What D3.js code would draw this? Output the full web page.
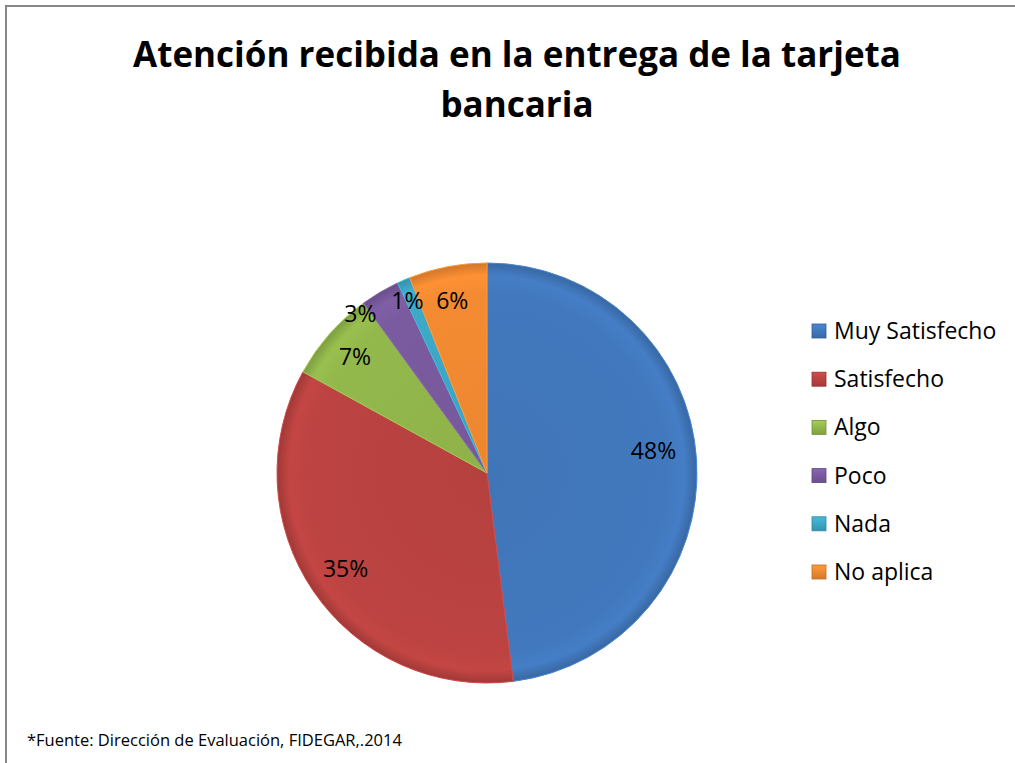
<!DOCTYPE html>
<html>
<head>
<meta charset="UTF-8">
<script src="https://d3js.org/d3.v7.min.js"></script>
<style>
  body { margin: 0; background: #fff; }
  text { font-family: "Open Sans", Lato, sans-serif; }
</style>
</head>
<body>
<svg width="1015" height="763"></svg>
<script>
// chart data
const categories = ['Muy Satisfecho', 'Satisfecho', 'Algo', 'Poco', 'Nada', 'No aplica'];
const values = [48, 35, 7, 3, 1, 6];
const colors = ['#4279BE', '#BC4341', '#93B84C', '#7B5BA0', '#3DA9C8', '#F48B32'];
const titleLines = ['Atención recibida en la entrega de la tarjeta', 'bancaria'];
const footnote = '*Fuente: Dirección de Evaluación, FIDEGAR,.2014';

// label placement (Excel best fit): distance from centre and angle shift in degrees
const labelRadius = [168, 171, 176, 203, 190, 176];
const labelShift = [-4, 0, 0, -8, -1.4, -0.6];

const svg = d3.select('svg');
const cx = 487, cy = 473, radius = 210;

// frame
svg.append('path')
  .attr('d', 'M6,763 L6,6 L1015,6')
  .attr('fill', 'none')
  .attr('stroke', '#878787')
  .attr('stroke-width', 2);

// title
svg.append('g')
  .selectAll('text')
  .data(titleLines)
  .join('text')
    .attr('x', 517)
    .attr('y', (d, i) => 67 + i * 50)
    .attr('text-anchor', 'middle')
    .attr('font-size', '35px')
    .attr('font-weight', 'bold')
    .attr('fill', '#000')
    .text(d => d);

// gradients for the bevel look
const defs = svg.append('defs');
colors.forEach((c, i) => {
  const g = defs.append('radialGradient')
    .attr('id', 'grad' + i)
    .attr('gradientUnits', 'userSpaceOnUse')
    .attr('cx', 0).attr('cy', 0).attr('r', radius);
  g.append('stop').attr('offset', '0%').attr('stop-color', d3.color(c).darker(0.1));
  g.append('stop').attr('offset', '86%').attr('stop-color', c);
  g.append('stop').attr('offset', '94%').attr('stop-color', d3.color(c).brighter(0.12));
  g.append('stop').attr('offset', '100%').attr('stop-color', d3.color(c).darker(0.45));

  const lg = defs.append('linearGradient')
    .attr('id', 'lgrad' + i)
    .attr('x1', 0).attr('y1', 0).attr('x2', 0).attr('y2', 1);
  lg.append('stop').attr('offset', '0%').attr('stop-color', d3.color(c).brighter(0.3));
  lg.append('stop').attr('offset', '100%').attr('stop-color', d3.color(c).darker(0.4));
});

const pie = d3.pie().sort(null).value(d => d)(values);
const arc = d3.arc().innerRadius(0).outerRadius(radius);

const g = svg.append('g').attr('transform', `translate(${cx},${cy})`);

g.selectAll('path')
  .data(pie)
  .join('path')
    .attr('d', arc)
    .attr('fill', (d, i) => `url(#grad${i})`)
    .attr('stroke', (d, i) => d3.color(colors[i]).brighter(0.3))
    .attr('stroke-width', 1);

// percentage labels
g.selectAll('text.lbl')
  .data(pie)
  .join('text')
    .attr('class', 'lbl')
    .attr('transform', (d, i) => {
      const a = (d.startAngle + d.endAngle) / 2 + labelShift[i] * Math.PI / 180;
      const x = labelRadius[i] * Math.sin(a);
      const y = -labelRadius[i] * Math.cos(a);
      return `translate(${x},${y})`;
    })
    .attr('text-anchor', 'middle')
    .attr('dy', '0.35em')
    .attr('font-size', '23px')
    .attr('fill', '#000')
    .text(d => d.value + '%');

// legend
const legend = svg.append('g').attr('transform', 'translate(812,331)');
const item = legend.selectAll('g')
  .data(categories)
  .join('g')
    .attr('transform', (d, i) => `translate(0,${i * 48.2})`);

item.append('rect')
  .attr('x', 0).attr('y', -7)
  .attr('width', 14).attr('height', 14)
  .attr('fill', (d, i) => `url(#lgrad${i})`)
  .attr('stroke', (d, i) => d3.color(colors[i]).darker(0.7))
  .attr('stroke-width', 0.8);

item.append('text')
  .attr('x', 22)
  .attr('dy', '0.35em')
  .attr('font-size', '23px')
  .attr('fill', '#000')
  .text(d => d);

// footnote
svg.append('text')
  .attr('x', 27)
  .attr('y', 746)
  .attr('font-size', '16.5px')
  .attr('fill', '#000')
  .text(footnote);
</script>
</body>
</html>
